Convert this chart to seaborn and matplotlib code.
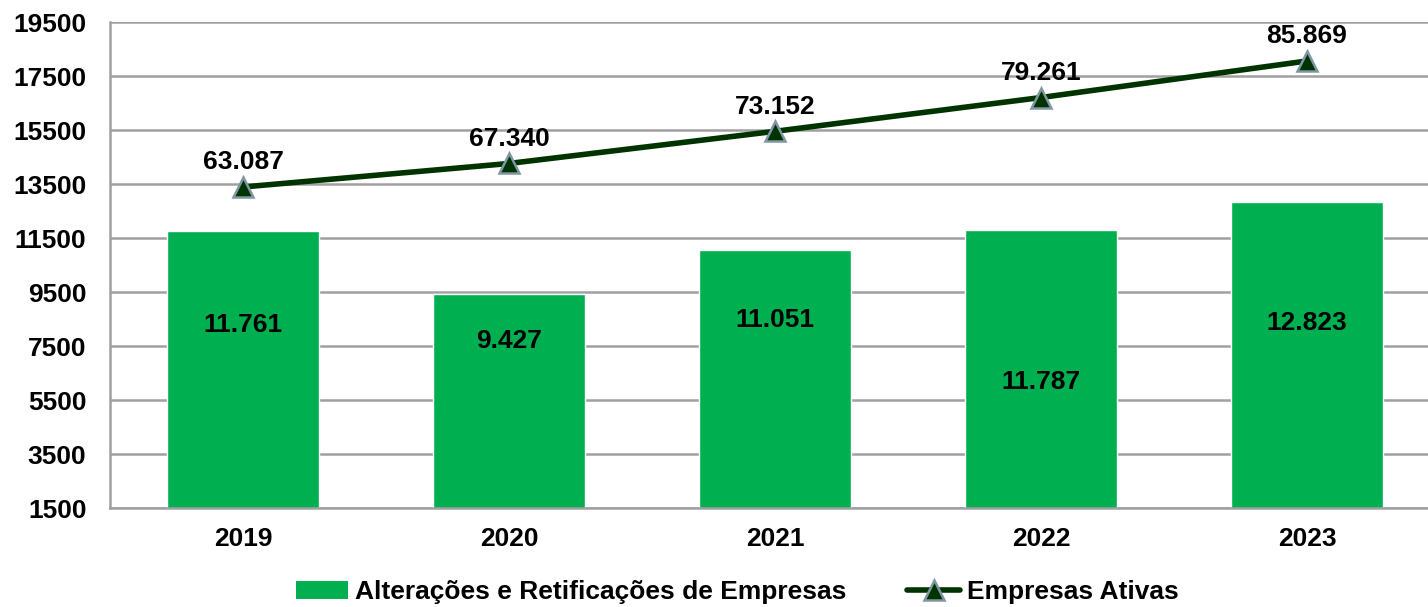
import matplotlib
matplotlib.use("Agg")
import matplotlib.pyplot as plt
import seaborn as sns
import pandas as pd
from matplotlib.lines import Line2D
from matplotlib.patches import Patch

years = ["2019", "2020", "2021", "2022", "2023"]
alteracoes = [11761, 9427, 11051, 11787, 12823]
ativas = [63087, 67340, 73152, 79261, 85869]
bar_label_y = [8280, 7690, 8460, 6170, 8350]
y_ticks = [1500, 3500, 5500, 7500, 9500, 11500, 13500, 15500, 17500, 19500]

def fmt(v):
    return f"{v:,}".replace(",", ".")

sns.set_theme(style="white")
plt.rcParams['font.family'] = ['Liberation Sans', 'DejaVu Sans']
plt.rcParams['font.weight'] = 'bold'
plt.rcParams['text.color'] = 'black'
plt.rcParams['xtick.color'] = 'black'
plt.rcParams['ytick.color'] = 'black'

FS = 19

df = pd.DataFrame({"ano": years, "alt": alteracoes, "ativ": ativas})

fig = plt.figure(figsize=(14.28, 6.07), dpi=100)
ax = fig.add_axes([110/1428, 1-508/607, 1-110/1428, (508-22)/607])

bar_color = "#00b050"
line_color = "#003300"
grid_color = "#a0a0a0"

ax.set_axisbelow(True)
for t in y_ticks:
    ax.axhline(t, color=grid_color, lw=1.8, zorder=0)

sns.barplot(data=df, x="ano", y="alt", color=bar_color, width=0.571,
            saturation=1, ax=ax, zorder=2)
ax.set_ylim(1500, 19500)
ax.set_xlim(-0.5, 4.455)
ax.set_yticks(y_ticks)
ax.set_yticklabels([str(t) for t in y_ticks], fontsize=FS, fontweight='bold', color='black')
ax.set_xticks(range(len(years)))
ax.set_xticklabels(years, fontsize=FS, fontweight='bold', color='black')
ax.tick_params(axis='x', length=0, pad=14, labelcolor='black')
ax.tick_params(axis='y', length=0, pad=17, labelcolor='black')
ax.set_xlabel("")
ax.set_ylabel("")
for s in ["top", "right"]:
    ax.spines[s].set_visible(False)
for s in ["left", "bottom"]:
    ax.spines[s].set_color(grid_color)
    ax.spines[s].set_linewidth(1.8)

for i, (v, ly) in enumerate(zip(alteracoes, bar_label_y)):
    ax.text(i, ly, fmt(v), ha='center', va='center', fontsize=FS,
            fontweight='bold', color='black', zorder=5)

ax2 = ax.twinx()
sns.lineplot(x=list(range(len(years))), y=ativas, ax=ax2, color=line_color,
             lw=4, marker='^', markersize=15, markerfacecolor=line_color,
             markeredgecolor="#7f97a2", markeredgewidth=1.8, zorder=4)
ax2.set_ylim(5056, 92916)
ax2.set_yticks([])
for s in ax2.spines.values():
    s.set_visible(False)
ax2.set_ylabel("")
ax2.set_xlim(-0.5, 4.455)
for i, v in enumerate(ativas):
    ax2.annotate(fmt(v), (i, v), xytext=(0, 9), textcoords='offset points',
                 ha='center', va='bottom', fontsize=FS, fontweight='bold',
                 color='black')

handles = [Patch(facecolor=bar_color, edgecolor='none'),
           Line2D([0], [0], color=line_color, lw=4, marker='^', markersize=15,
                  markerfacecolor=line_color, markeredgecolor="#7f97a2",
                  markeredgewidth=1.8)]
labels = ["Alterações e Retificações de Empresas", "Empresas Ativas"]
leg = fig.legend(handles, labels, loc='center', bbox_to_anchor=(737/1428, 1-592/607),
                 ncol=2, frameon=False, handlelength=2.0,
                 handletextpad=0.25, columnspacing=2.3, prop={'weight': 'bold', 'size': FS})
for t in leg.get_texts():
    t.set_color('black')

fig.savefig("out.png", dpi=100)
